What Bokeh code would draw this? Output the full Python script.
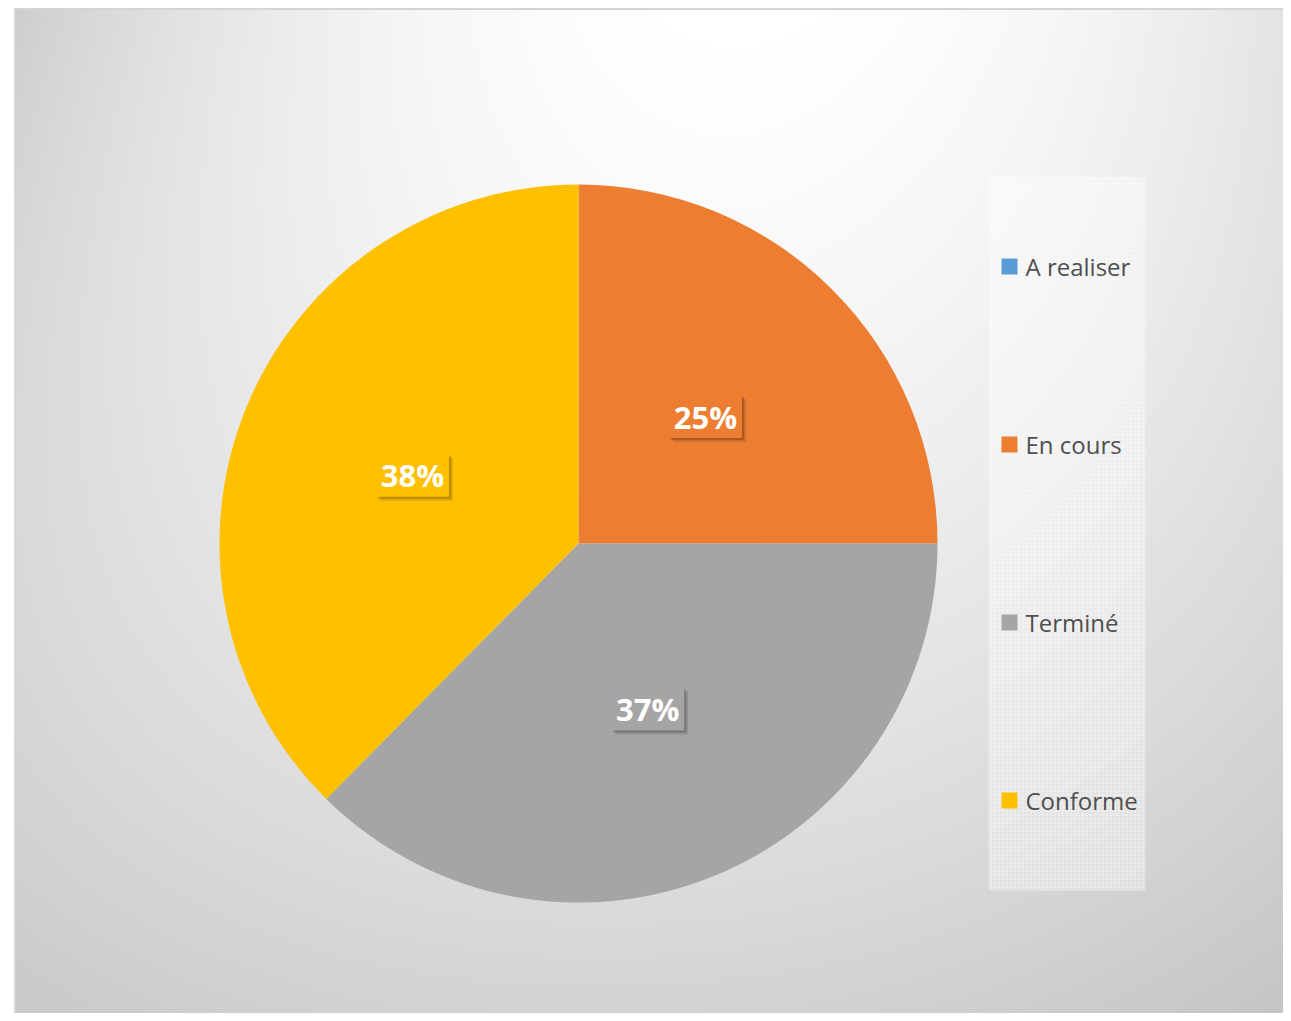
import numpy as np
from bokeh.plotting import figure
from bokeh.models import ColumnDataSource
from bokeh.core.properties import value
from bokeh.embed import file_html
from bokeh.resources import INLINE

# ---------------- data ----------------
categories = ["A realiser", "En cours", "Terminé", "Conforme"]
values = [0.0, 25.0, 37.4, 37.6]
colors = ["#5B9BD5", "#ED7D31", "#A5A5A5", "#FFC000"]

# ---------------- figure ----------------
W, H = 1283, 1013
p = figure(width=W, height=H, x_range=(0, W), y_range=(0, H),
           output_backend="svg", toolbar_location=None, min_border=0,
           background_fill_color="white", border_fill_color="white")
p.axis.visible = False
p.grid.visible = False
p.outline_line_color = None

# ---------------- background gradient ----------------
def quad(t, a, b, c):
    return a * (2 * t - 1) * (t - 1) + b * (-4 * t * (t - 1)) + c * t * (2 * t - 1)

G = [[206, 255, 228],
     [217, 240, 220],
     [201, 211, 197]]
x0 = 14
nx, ny = 640, 507
u = np.linspace(0, 1, nx)[None, :]
v = (1 - np.linspace(0, 1, ny))[:, None]
rows = [quad(u, *r) for r in G]
g = quad(v, rows[0], rows[1], rows[2])
g = np.clip(g, 0, 255).astype(np.uint8)
img = np.empty((ny, nx), dtype=np.uint32)
view = img.view(dtype=np.uint8).reshape((ny, nx, 4))
view[..., 0] = g
view[..., 1] = g
view[..., 2] = g
view[..., 3] = 255
p.image_rgba(image=[img], x=x0, y=0, dw=W - x0, dh=H - 8)

# chart border
p.line(x=[x0, W], y=[H - 8.5, H - 8.5], line_color="#d4d4d4", line_width=2)
p.line(x=[x0 + 0.5, x0 + 0.5], y=[0, H - 8], line_color="#d4d4d4", line_width=1.5)

# ---------------- pie ----------------
cx, cy, r = 578, 470, 359
total = sum(values)
fr = [val / total for val in values]
cum = np.concatenate([[0.0], np.cumsum(fr)])
start = [np.pi / 2 - 2 * np.pi * c for c in cum[:-1]]
end = [np.pi / 2 - 2 * np.pi * c for c in cum[1:]]

idx = [i for i, val in enumerate(values) if val > 0]
wsrc = ColumnDataSource(dict(
    start=[start[i] for i in idx], end=[end[i] for i in idx],
    color=[colors[i] for i in idx]))
p.wedge(x=cx, y=cy, radius=r, start_angle="start", end_angle="end",
        direction="clock", fill_color="color", line_color=None, source=wsrc)

# data labels
mids = [(start[i] + end[i]) / 2 for i in idx]
lx = [cx + 0.5 * r * np.cos(m) for m in mids]
ly = [cy + 0.5 * r * np.sin(m) for m in mids]
ltxt = [f"{round(values[i])}%" for i in idx]
lcol = [colors[i] for i in idx]
lsrc = ColumnDataSource(dict(x=lx, y=ly, t=ltxt, c=lcol,
                             xs1=[x + 2 for x in lx], ys1=[y - 2 for y in ly],
                             xs2=[x + 4 for x in lx], ys2=[y - 4 for y in ly]))
p.rect(x="xs2", y="ys2", width=73, height=43, width_units="screen", height_units="screen",
       fill_color="black", fill_alpha=0.12, line_color=None, source=lsrc)
p.rect(x="xs1", y="ys1", width=73, height=43, width_units="screen", height_units="screen",
       fill_color="black", fill_alpha=0.18, line_color=None, source=lsrc)
p.rect(x="x", y="y", width=73, height=43, width_units="screen", height_units="screen",
       fill_color="c", line_color=None, source=lsrc)
p.text(x="x", y="y", text="t", source=lsrc, text_color="white",
       text_font=value("Open Sans"), text_font_style="bold", text_font_size="31px",
       text_align="center", text_baseline="middle")

# ---------------- legend ----------------
p.rect(x=1066.5, y=480, width=157, height=714, fill_color="white", fill_alpha=0.28,
       line_color=None, hatch_pattern="+", hatch_color="white", hatch_alpha=0.35,
       hatch_scale=4, hatch_weight=1)
leg_y = [747, 569, 391, 213]
leg_src = ColumnDataSource(dict(x=[1009] * 4, tx=[1025] * 4, y=leg_y,
                                c=colors, t=categories))
p.rect(x="x", y="y", width=16, height=16, fill_color="c", line_color=None, source=leg_src)
p.text(x="tx", y="y", text="t", source=leg_src, text_color="#4f4f4f",
       text_font=value("Open Sans"), text_font_size="24px",
       text_align="left", text_baseline="middle")

open("out.html", "w").write(file_html(p, INLINE))
